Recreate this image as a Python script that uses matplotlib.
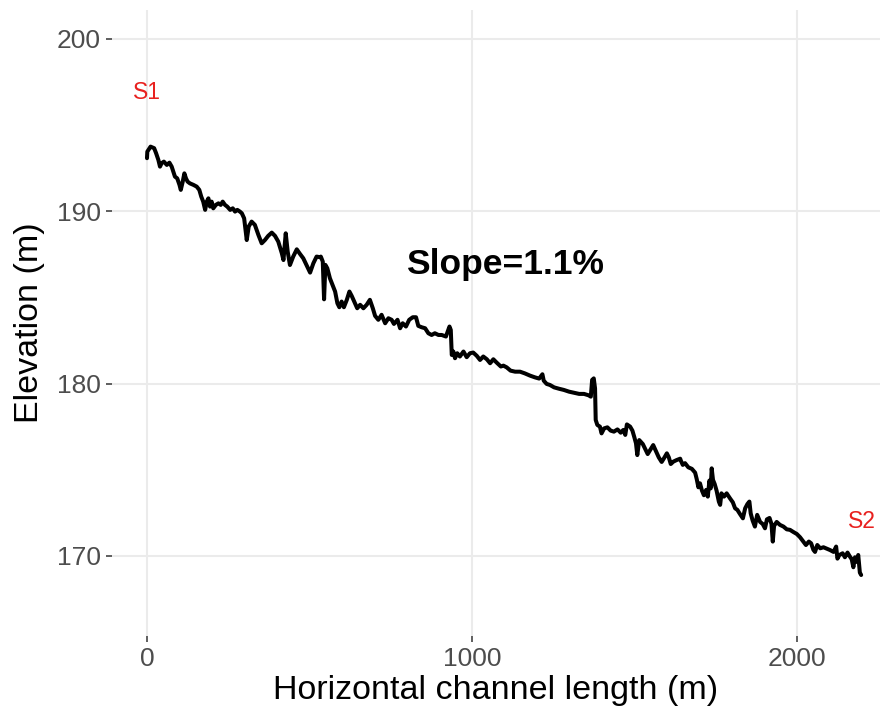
import matplotlib
matplotlib.use("Agg")
import matplotlib.pyplot as plt

# Horizontal distance along channel (m) and bed elevation (m)
distance_m = [
    0, 1, 11, 22, 28, 35, 40, 45, 52, 61, 69, 76, 81, 86, 93, 100, 104, 110, 115, 120,
    125, 132, 143, 153, 161, 167, 173, 179, 184, 189, 194, 199, 204, 212, 220, 227, 233,
    240, 247, 256, 264, 271, 278, 286, 292, 299,
    307, 313, 322, 332, 343, 353, 363, 373, 384, 394, 404, 415, 420, 427, 433, 440, 450,
    461, 471, 481, 491, 502, 512, 522, 533,
    535, 541, 545, 549, 555, 563, 571, 579, 586, 592, 599, 606, 615, 623, 630, 640, 647,
    656, 666, 676, 686, 695, 702, 712, 722, 733, 743, 753, 760, 771, 779, 787, 797, 807,
    818, 828, 835, 845, 856, 866, 876, 886, 897, 907, 920, 931, 935, 938, 943, 948, 955,
    963, 974, 984, 994, 1004, 1015, 1025, 1035, 1046, 1056, 1066, 1076,
    1089, 1097, 1107, 1119, 1133, 1148, 1163, 1179, 1194, 1207, 1217, 1221, 1230, 1240,
    1253, 1268, 1283, 1299, 1314, 1330, 1345, 1359, 1366, 1370, 1375, 1379, 1381, 1386,
    1394, 1399, 1407, 1417, 1427, 1437, 1448, 1458, 1466, 1472, 1477, 1487, 1494, 1500,
    1505, 1509, 1515, 1526, 1534, 1541, 1550, 1558, 1567, 1575, 1584, 1591, 1600, 1606,
    1612, 1620, 1630, 1641,
    1643, 1649, 1656, 1666, 1677, 1687, 1692, 1697, 1702, 1708, 1714, 1721, 1726, 1731,
    1735, 1738, 1742, 1747, 1753, 1760, 1764, 1768, 1776, 1784, 1795, 1803, 1810, 1817,
    1825, 1834, 1841, 1848, 1854, 1858, 1864, 1871, 1878, 1887, 1895, 1902, 1908, 1916,
    1922, 1926, 1930, 1938, 1948, 1959, 1969, 1979, 1989, 2000, 2010, 2020, 2028, 2037,
    2044, 2051, 2056, 2063, 2072, 2082, 2092, 2102, 2113, 2121, 2125, 2131, 2141, 2148,
    2156, 2162, 2169, 2174, 2179, 2184, 2189, 2194, 2198,
]
elevation_m = [
    193.08, 193.46, 193.75, 193.66, 193.37, 192.98, 192.59, 192.79, 192.88, 192.69, 192.82,
    192.59, 192.30, 192.01, 191.91, 191.53, 191.24, 191.72, 192.20, 191.91, 191.72, 191.62,
    191.53, 191.43, 191.24, 190.85, 190.56, 190.08, 190.56, 190.75, 190.27, 190.56, 190.17,
    190.37, 190.46, 190.37, 190.56, 190.37, 190.27, 190.08, 190.17, 189.98, 190.08, 189.98,
    189.88, 189.59,
    188.33, 189.11, 189.40, 189.21, 188.62, 188.14, 188.33,
    188.57, 188.76, 188.57, 188.24, 187.56, 187.17, 188.72, 187.66, 186.88, 187.37, 187.79,
    187.52, 187.27, 186.88, 186.44, 186.98, 187.37, 187.33,
    187.37, 187.08, 184.89, 186.89, 186.69, 186.11, 185.73, 185.34, 184.66, 184.43, 184.76,
    184.43, 184.86, 185.34, 185.09, 184.66, 184.37, 184.57, 184.37, 184.57, 184.86, 184.37,
    183.93, 183.70, 183.99, 183.50, 183.79, 183.70, 183.46, 183.70, 183.21, 183.50, 183.31,
    183.70, 183.85, 183.85, 183.35, 183.27, 183.21, 182.92, 182.82, 182.92, 182.82, 182.82,
    182.73, 183.31, 183.11, 181.66, 181.86, 181.47, 181.76, 181.57, 181.86, 181.53, 181.76,
    181.80, 181.61, 181.37, 181.57, 181.41, 181.18, 181.41, 181.22,
    180.99, 181.04, 180.94, 180.75, 180.69, 180.69, 180.59, 180.46, 180.36, 180.29, 180.54,
    180.17, 179.98, 179.92, 179.78, 179.70, 179.63, 179.53, 179.47, 179.40, 179.40, 179.32,
    179.24, 180.21, 180.30, 179.72, 177.89, 177.60, 177.50, 177.11, 177.40, 177.46, 177.27,
    177.21, 177.34, 177.15, 177.31, 177.02, 177.63, 177.50, 177.27, 176.88, 176.53, 175.85,
    176.72, 176.49, 176.18, 175.91, 176.18, 176.43, 176.05, 175.72, 175.45, 175.66, 175.95,
    175.72, 175.33, 175.47, 175.56, 175.64,
    175.53, 175.28, 175.38, 175.14, 175.05, 174.83, 174.45, 173.98, 174.21, 173.79, 173.52,
    173.83, 173.44, 174.37, 173.92, 175.08, 174.41, 174.18, 173.79, 173.15, 172.96, 173.63,
    173.44, 173.63, 173.32, 173.11, 172.76, 172.67, 172.43, 172.18, 172.76, 173.01, 173.15,
    172.47, 172.05, 171.70, 172.38, 171.97, 171.85, 171.60, 172.12, 172.20, 171.85, 170.83,
    171.74, 171.97, 171.80, 171.70, 171.54, 171.51, 171.39, 171.27, 171.08, 170.83, 170.63,
    170.83, 170.73, 170.35, 170.23, 170.63, 170.44, 170.50, 170.42, 170.34, 170.23, 170.54,
    169.84, 170.05, 170.15, 169.92, 170.19, 170.00, 169.80, 169.34, 169.92, 169.65, 170.05,
    169.03, 168.89,
]

x_ticks = [0, 1000, 2000]
y_ticks = [170, 180, 190, 200]
site_labels = ["S1", "S2"]
site_x = [0, 2201]
site_y = [196.9, 172.0]
slope_text = "Slope=1.1%"
slope_pos = (1102, 186.9)

plt.rcParams["font.family"] = ["Liberation Sans", "DejaVu Sans"]

fig = plt.figure(figsize=(8.8, 7.14), dpi=100)
ax = fig.add_axes([112 / 880, 1 - 636 / 714, 768 / 880, 626 / 714])

ax.plot(distance_m, elevation_m, color="black", linewidth=2.9, solid_joinstyle="round",
        solid_capstyle="round", zorder=3)

for lab, sx, sy in zip(site_labels, site_x, site_y):
    ax.text(sx, sy, lab, color="#E8211F", fontsize=16.5, ha="center", va="center", zorder=4)

ax.text(slope_pos[0], slope_pos[1], slope_text, fontsize=25.5, fontweight="bold",
        ha="center", va="center", color="black", zorder=4)

ax.set_xlim(-107.7, 2256)
ax.set_ylim(165.35, 201.68)
ax.set_xticks(x_ticks)
ax.set_yticks(y_ticks)
ax.grid(True, color="#EBEBEB", linewidth=1.5, zorder=0)
ax.set_axisbelow(True)
for sp in ax.spines.values():
    sp.set_visible(False)
ax.tick_params(axis="both", which="major", length=4, width=1.1, color="#333333",
               labelsize=19, labelcolor="#4D4D4D", pad=4)

ax.set_xlabel("Horizontal channel length (m)", fontsize=24.5, color="black")
ax.set_ylabel("Elevation (m)", fontsize=24.5, color="black")
ax.xaxis.set_label_coords(0.5, (636 - 691) / 626)
ax.xaxis.label.set_va("center")
ax.yaxis.set_label_coords((30 - 112) / 768, 0.5)
ax.yaxis.label.set_va("center")

fig.savefig("out.png", dpi=100)
